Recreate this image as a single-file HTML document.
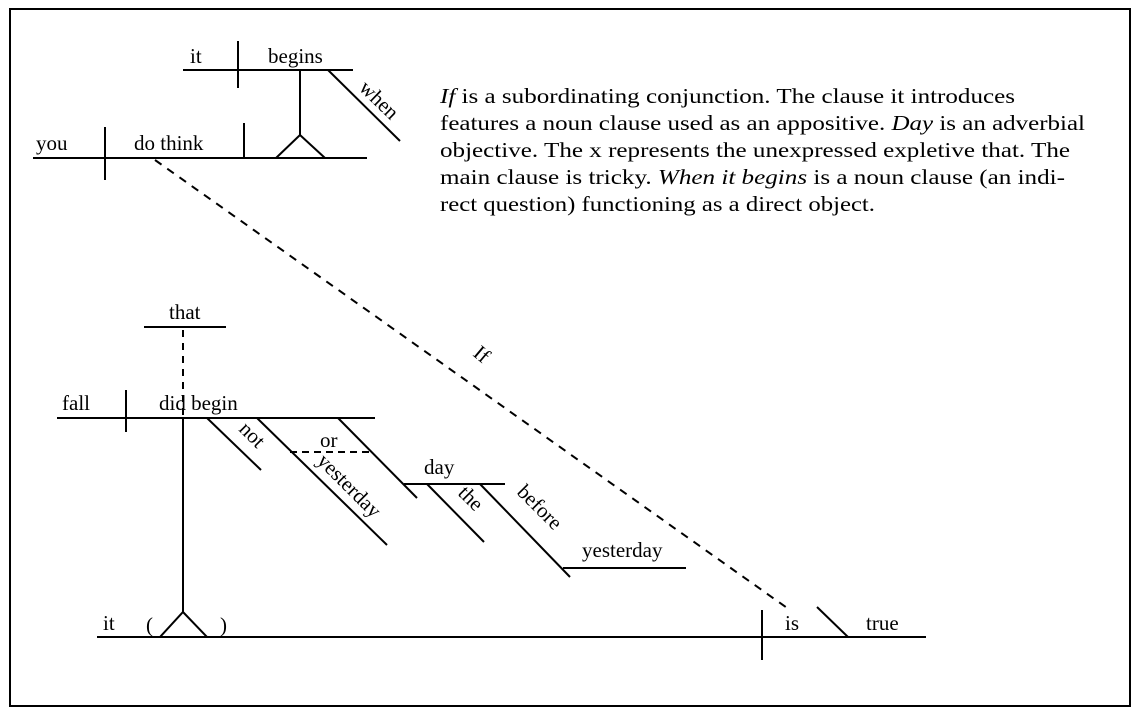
<!DOCTYPE html>
<html><head><meta charset="utf-8"><style>
html,body{margin:0;padding:0;background:#fff}
svg{display:block}
text{font-family:"Liberation Serif",serif;font-size:21px;fill:#000}
</style></head><body>
<svg width="1138" height="715" viewBox="0 0 1138 715" xmlns="http://www.w3.org/2000/svg">
<rect x="10" y="9" width="1120" height="697" fill="none" stroke="#000" stroke-width="2"/>
<g stroke="#000" stroke-width="2" fill="none">
<line x1="183" y1="70" x2="353" y2="70"/>
<line x1="238" y1="41" x2="238" y2="88"/>
<line x1="300" y1="70" x2="300" y2="135"/>
<polyline points="276,158 300,135 325,158"/>
<line x1="328" y1="70" x2="400" y2="141"/>
<line x1="33" y1="158" x2="367" y2="158"/>
<line x1="105" y1="127" x2="105" y2="180"/>
<line x1="244" y1="123" x2="244" y2="158"/>
<line x1="155" y1="160" x2="790" y2="610" stroke-dasharray="8,7"/>
<line x1="97" y1="637" x2="926" y2="637"/>
<line x1="762" y1="610" x2="762" y2="660"/>
<line x1="817" y1="607" x2="848" y2="637"/>
<polyline points="160,637 183,612 207,637"/>
<line x1="183" y1="418" x2="183" y2="612"/>
<line x1="57" y1="418" x2="375" y2="418"/>
<line x1="126" y1="390" x2="126" y2="432"/>
<line x1="144" y1="327" x2="226" y2="327"/>
<line x1="183" y1="330" x2="183" y2="418" stroke-dasharray="7,6"/>
<line x1="207" y1="418" x2="261" y2="470"/>
<line x1="257" y1="418" x2="387" y2="545"/>
<line x1="338" y1="418" x2="417" y2="498"/>
<line x1="290" y1="452" x2="372" y2="452" stroke-dasharray="7,5"/>
<line x1="404" y1="484" x2="505" y2="484"/>
<line x1="427" y1="484" x2="484" y2="542"/>
<line x1="480" y1="484" x2="570" y2="577"/>
<line x1="563" y1="568" x2="686" y2="568"/>
</g>
<text x="190" y="63">it</text>
<text x="268" y="63">begins</text>
<text transform="translate(358,89) rotate(44)">when</text>
<text x="36" y="150">you</text>
<text x="134" y="150">do think</text>
<text transform="translate(472,355) rotate(40)">If</text>
<text x="169" y="319">that</text>
<text x="62" y="410">fall</text>
<text x="159" y="410">did begin</text>
<text transform="translate(238,430) rotate(45)">not</text>
<text x="320" y="447">or</text>
<text transform="translate(316,462) rotate(45)">yesterday</text>
<text x="424" y="474">day</text>
<text transform="translate(457,494) rotate(45)">the</text>
<text transform="translate(516,493) rotate(45)">before</text>
<text x="582" y="557">yesterday</text>
<text x="103" y="630">it</text>
<text x="146" y="632">(</text>
<text x="220" y="632">)</text>
<text x="785" y="630">is</text>
<text x="866" y="630">true</text>
<text x="440" y="103" textLength="575" lengthAdjust="spacingAndGlyphs"><tspan font-style="italic">If</tspan> is a subordinating conjunction. The clause it introduces</text>
<text x="440" y="130" textLength="645" lengthAdjust="spacingAndGlyphs">features a noun clause used as an appositive. <tspan font-style="italic">Day</tspan> is an adverbial</text>
<text x="440" y="157" textLength="630" lengthAdjust="spacingAndGlyphs">objective. The x represents the unexpressed expletive that. The</text>
<text x="440" y="184" textLength="625" lengthAdjust="spacingAndGlyphs">main clause is tricky. <tspan font-style="italic">When it begins</tspan> is a noun clause (an indi-</text>
<text x="440" y="211" textLength="435" lengthAdjust="spacingAndGlyphs">rect question) functioning as a direct object.</text>
</svg>
</body></html>
